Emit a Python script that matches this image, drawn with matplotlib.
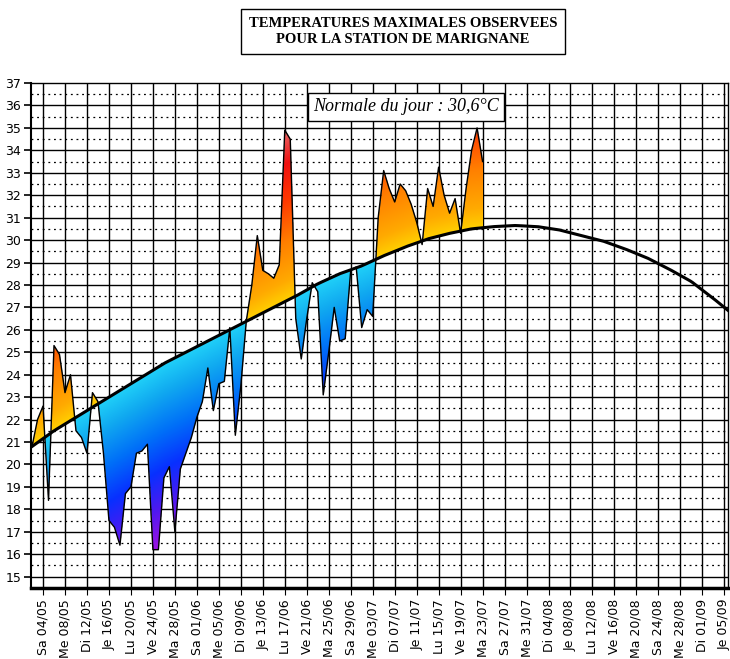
import numpy as np
import matplotlib
matplotlib.use("Agg")
import matplotlib.pyplot as plt
from matplotlib.colors import LinearSegmentedColormap

# Observed daily max temps, day 0 = 02/05
temps = [20.8, 22.0, 22.6, 18.4, 25.3, 24.9, 23.2, 24.0, 21.5, 21.2,
         20.5, 23.2, 22.8, 20.5, 17.5, 17.2, 16.4, 18.7, 19.0, 20.5,
         20.6, 20.9, 16.2, 16.2, 19.4, 19.9, 17.0, 19.8, 20.5, 21.2,
         22.1, 22.8, 24.3, 22.4, 23.6, 23.7, 26.1, 21.3, 23.5, 26.4,
         28.0, 30.2, 28.65, 28.5, 28.3, 28.9, 34.9, 34.5, 26.5, 24.7,
         26.5, 28.1, 27.7, 23.1, 25.0, 27.0, 25.5, 25.6, 28.65, 28.8,
         26.1, 26.9, 26.6, 31.0, 33.1, 32.3, 31.7, 32.5, 32.2, 31.6,
         30.8, 29.8, 32.3, 31.5, 33.25, 32.0, 31.2, 31.85, 30.3, 32.3,
         34.0, 35.0, 33.5]
# Normal curve anchors
norm_days = [0, 4, 8, 12, 16, 20, 24, 28, 32, 36, 40, 44, 48, 52, 56, 60, 64, 68,
             72, 76, 80, 84, 88, 92, 96, 100, 104, 108, 112, 116, 120, 124, 127]
norm_vals = [20.8, 21.5, 22.1, 22.7, 23.3, 23.9, 24.5, 25.0, 25.5, 26.0, 26.5, 27.0,
             27.5, 28.05, 28.5, 28.85, 29.3, 29.7, 30.05, 30.3, 30.5, 30.6, 30.65,
             30.6, 30.45, 30.2, 29.95, 29.6, 29.2, 28.7, 28.15, 27.4, 26.8]
tick_labels = ["Sa 04/05", "Me 08/05", "Di 12/05", "Je 16/05", "Lu 20/05", "Ve 24/05",
               "Ma 28/05", "Sa 01/06", "Me 05/06", "Di 09/06", "Je 13/06", "Lu 17/06",
               "Ve 21/06", "Ma 25/06", "Sa 29/06", "Me 03/07", "Di 07/07", "Je 11/07",
               "Lu 15/07", "Ve 19/07", "Ma 23/07", "Sa 27/07", "Me 31/07", "Di 04/08",
               "Je 08/08", "Lu 12/08", "Ve 16/08", "Ma 20/08", "Sa 24/08", "Me 28/08",
               "Di 01/09", "Je 05/09"]

days = np.arange(len(temps))
temps_a = np.array(temps)

fig = plt.figure(figsize=(7.30, 6.59), dpi=100)
ax = fig.add_axes([0.0425, 0.108, 0.955, 0.766])
x0, x1, y0, y1 = -0.18, 126.7, 14.5, 37
ax.set_xlim(x0, x1); ax.set_ylim(y0, y1)

ticks = np.arange(2, 2 + 4 * len(tick_labels), 4)
for t in ticks:
    ax.axvline(t, color='black', lw=1, zorder=1)
for v in range(15, 37):
    ax.axhline(v, color='black', lw=1, zorder=1)
    ax.axhline(v + 0.5, color='black', lw=0.9, ls=(0, (1.5, 3)), zorder=1)

xs = np.linspace(0, days[-1], 1200)
ys = np.linspace(y0, y1, 900)
tx = np.interp(xs, days, temps_a)
nx = np.interp(xs, norm_days, norm_vals)
X, Y = np.meshgrid(xs, ys)
T = np.broadcast_to(tx, X.shape); N = np.broadcast_to(nx, X.shape)
dev = Y - N
cold = LinearSegmentedColormap.from_list("c", [(0, "#b010e0"), (0.25, "#5018f0"), (0.45, "#0830ff"),
                                               (0.65, "#0070f8"), (0.85, "#10a8f0"), (1, "#20d0f8")])
hot = LinearSegmentedColormap.from_list("h", [(0, "#ffd000"), (0.12, "#ffaa00"), (0.35, "#ff8000"),
                                              (0.6, "#ff3800"), (0.82, "#f01010"), (1, "#e86060")])
rgba = np.zeros(X.shape + (4,))
below = (Y >= T) & (Y <= N)
above = (Y <= T) & (Y >= N)
rgba[below] = cold(np.clip(1 + dev[below] / 8.5, 0, 1))
rgba[above] = hot(np.clip(dev[above] / 7.5, 0, 1))
ax.imshow(rgba, extent=[xs[0], xs[-1], y0, y1], origin='lower', aspect='auto', zorder=2, interpolation='bilinear')

ax.plot(days, temps_a, color='black', lw=1, zorder=3)
nd = np.linspace(0, 127, 300)
ax.plot(nd, np.interp(nd, norm_days, norm_vals), color='black', lw=2.2, zorder=4)

ax.set_xticks(ticks)
ax.set_xticklabels(tick_labels, rotation=90, fontsize=9, family='DejaVu Sans')
ax.set_yticks(range(15, 38))
ax.set_yticklabels([str(v) for v in range(15, 38)], fontsize=9)
ax.tick_params(axis='y', length=5, pad=2, width=1.2)
ax.tick_params(axis='x', length=5, pad=3)
for s in ax.spines.values():
    s.set_linewidth(1)
ax.spines['bottom'].set_linewidth(2.5)
ax.spines['left'].set_linewidth(1.5)

ax.text(0.538, 0.953, "Normale du jour : 30,6°C", transform=ax.transAxes, ha='center', va='center',
        fontsize=13, style='italic', family='Liberation Serif', zorder=6,
        bbox=dict(facecolor='white', edgecolor='black', lw=1, boxstyle='square,pad=0.3'))
fig.text(0.552, 0.952, "TEMPERATURES MAXIMALES OBSERVEES\nPOUR LA STATION DE MARIGNANE", ha='center', va='center',
         fontsize=10.5, weight='bold', family='Liberation Serif', linespacing=1.3,
         bbox=dict(facecolor='white', edgecolor='black', lw=1, boxstyle='square,pad=0.55'))
fig.savefig("out.png", dpi=100)
